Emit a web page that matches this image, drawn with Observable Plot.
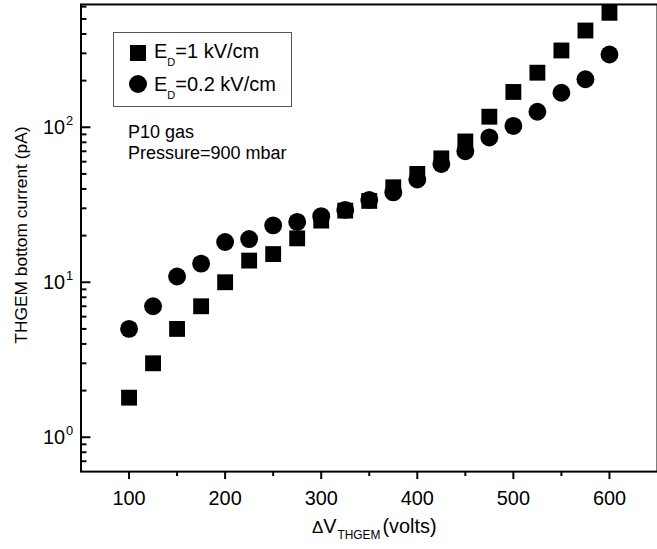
<!DOCTYPE html>
<html>
<head>
<meta charset="utf-8">
<script src="https://cdn.jsdelivr.net/npm/d3@7"></script>
<script src="https://cdn.jsdelivr.net/npm/@observablehq/plot@0.6"></script>
<style>
  html, body { margin: 0; padding: 0; background: #fff; }
  body { font-family: "Liberation Sans", Arial, sans-serif; color: #000; }
  #wrap { position: relative; width: 657px; height: 549px; overflow: hidden; }
  #wrap svg { display: block; }
  .legend { position: absolute; left: 113px; top: 32px; width: 179px; height: 75px;
            border: 1px solid #555; box-sizing: border-box; }
  .sq { position: absolute; left: 16px; top: 12px; width: 16px; height: 16px; background: #000; }
  .ci { position: absolute; left: 15px; top: 42px; width: 18px; height: 18px; background: #000; border-radius: 50%; }
  .lt { position: absolute; left: 40px; font-size: 20px; line-height: 20px; white-space: nowrap; }
  .lt .sub { font-size: 11px; position: relative; top: 8px; }
  .note { position: absolute; left: 128px; font-size: 18px; line-height: 18px; white-space: nowrap; }
</style>
</head>
<body>
<div id="wrap"></div>
<script>
// ---- data ----
const voltages = [100, 125, 150, 175, 200, 225, 250, 275, 300, 325, 350, 375, 400, 425, 450, 475, 500, 525, 550, 575, 600];
const currentED1 = [1.8, 3.0, 5.0, 7.0, 10, 13.8, 15.2, 19.2, 25, 29, 33.5, 41, 50, 63, 81, 117, 169, 225, 313, 421, 548];
const currentED02 = [5.0, 7.0, 10.9, 13.2, 18.2, 19, 23.3, 24.5, 26.7, 29.3, 34, 38, 46, 58, 70, 86, 102, 126, 167, 204, 295];
const seriesLabels = ["1 kV/cm", "0.2 kV/cm"];
const xMajorTicks = [100, 200, 300, 400, 500, 600];
const xMinorTicks = [150, 250, 350, 450, 550];
const yMajorTicks = [1, 10, 100];
const yMinorTicks = [0.7, 0.8, 0.9, 2, 3, 4, 5, 6, 7, 8, 9, 20, 30, 40, 50, 60, 70, 80, 90, 200, 300, 400, 500, 600];
const xLabel = "ΔV";
const yLabel = "THGEM bottom current (pA)";
const noteLines = ["P10 gas", "Pressure=900 mbar"];

const sq = voltages.map((v, i) => ({v, c: currentED1[i]}));
const ci = voltages.map((v, i) => ({v, c: currentED02[i]}));

const W = 661, H = 549, mL = 81, mR = 0, mT = 4, mB = 75;
const frameW = W - mL - mR;

const chart = Plot.plot({
  width: W, height: H,
  marginLeft: mL, marginRight: mR, marginTop: mT, marginBottom: mB,
  style: {fontFamily: "Liberation Sans, Arial, sans-serif", color: "#000", background: "#fff"},
  x: {domain: [50, 650]},
  y: {type: "log", domain: [0.6, 620], axis: null},
  marks: [
    Plot.frame({stroke: "#000", strokeWidth: 2}),
    Plot.axisX({ticks: xMajorTicks, tickSize: 8, tickPadding: 11, fontSize: 20, strokeWidth: 2, label: null, tickFormat: d => String(d)}),
    Plot.axisX({ticks: xMinorTicks, tickSize: 5, strokeWidth: 2, label: null, tickFormat: () => ""}),
    Plot.tickY(yMajorTicks, {y: d => d, insetRight: frameW - 10, stroke: "#000", strokeWidth: 2}),
    Plot.tickY(yMinorTicks, {y: d => d, insetRight: frameW - 6, stroke: "#000", strokeWidth: 2}),
    Plot.text(yMajorTicks, {y: d => d, frameAnchor: "left", text: () => "10", textAnchor: "end", dx: -16, fontSize: 20}),
    Plot.text(yMajorTicks, {y: d => d, frameAnchor: "left", text: d => String(Math.round(Math.log10(d))), textAnchor: "start", dx: -15, dy: -6, fontSize: 13}),
    Plot.text([yLabel], {frameAnchor: "left", text: d => d, rotate: -90, textAnchor: "middle", dx: -60, dy: -3, fontSize: 17.5}),
    Plot.text([xLabel], {frameAnchor: "bottom", text: d => d, dx: 5, dy: 61.6, fontSize: 20, className: "xlab"}),
    Plot.dot(sq, {x: "v", y: "c", r: 9, symbol: "square", fill: "#000", stroke: null}),
    Plot.dot(ci, {x: "v", y: "c", r: 9, symbol: "circle", fill: "#000", stroke: null})
  ]
});

const wrap = document.getElementById("wrap");
wrap.appendChild(chart);

// x label with subscript
const xl = chart.querySelector(".xlab text");
if (xl) {
  xl.innerHTML = '<tspan font-size="17">Δ</tspan>V<tspan font-size="12" dy="6" dx="1">THGEM</tspan><tspan dy="-6" dx="2">(volts)</tspan>';
}

// legend
const legend = document.createElement("div");
legend.className = "legend";
legend.innerHTML =
  '<div class="sq"></div><div class="lt" style="top:7.8px">E<span class="sub">D</span>=' + seriesLabels[0] + '</div>' +
  '<div class="ci"></div><div class="lt" style="top:41.1px">E<span class="sub">D</span>=' + seriesLabels[1] + '</div>';
wrap.appendChild(legend);

// annotation, one line per div
noteLines.forEach((t, i) => {
  const d = document.createElement("div");
  d.className = "note";
  d.style.top = (123.3 + i * 20.3) + "px";
  d.textContent = t;
  wrap.appendChild(d);
});
</script>
</body>
</html>
